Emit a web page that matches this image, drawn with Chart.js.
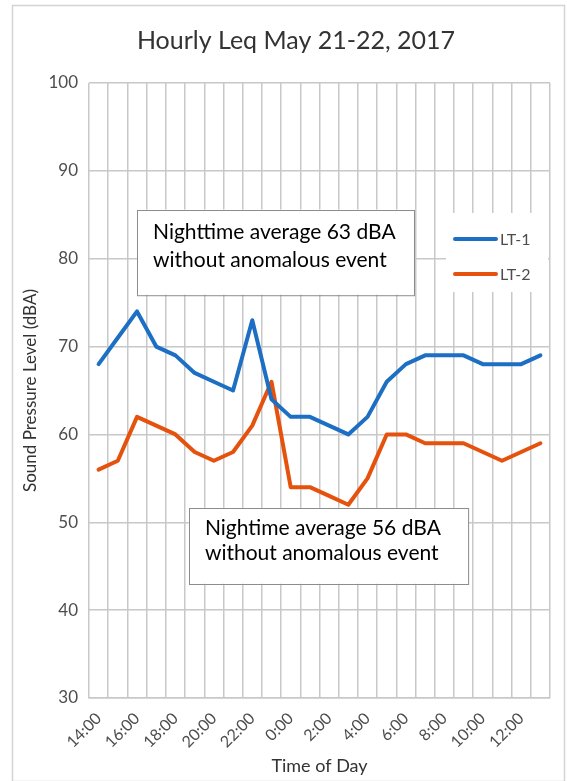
<!DOCTYPE html>
<html>
<head>
<meta charset="utf-8">
<script src="https://cdn.jsdelivr.net/npm/chart.js@4.4.1/dist/chart.umd.min.js"></script>
<style>
  html, body { margin: 0; padding: 0; background: #fff; }
  #wrap { width: 567px; height: 781px; position: relative; }
</style>
</head>
<body>
<div id="wrap"><canvas id="c" width="567" height="781"></canvas></div>
<script>
// hourly categories, 14:00 through 13:00 next day
const hours = ['14:00','15:00','16:00','17:00','18:00','19:00','20:00','21:00','22:00','23:00',
  '0:00','1:00','2:00','3:00','4:00','5:00','6:00','7:00','8:00','9:00','10:00','11:00','12:00','13:00'];
const lt1 = [68, 71, 74, 70, 69, 67, 66, 65, 73, 64, 62, 62, 61, 60, 62, 66, 68, 69, 69, 69, 68, 68, 68, 69];
const lt2 = [56, 57, 62, 61, 60, 58, 57, 58, 61, 66, 54, 54, 53, 52, 55, 60, 60, 59, 59, 59, 58, 57, 58, 59];
const seriesNames = ['LT-1', 'LT-2'];
const seriesColors = ['#1c6fc3', '#e5520e'];
const yTicks = { min: 30, max: 100, step: 10 };
const chartTitle = 'Hourly Leq May 21-22, 2017';
const notes = [
  { lines: ['Nighttime average 63 dBA', 'without anomalous event'], x0: 2.0, x1: 16.42, y0: 85.6, y1: 75.9 },
  { lines: ['Nightime average 56 dBA', 'without anomalous event'], x0: 4.7, x1: 19.23, y0: 51.65, y1: 43.0 }
];

const FONT = 'Lato, "Open Sans", sans-serif';

const extras = {
  id: 'extras',
  afterDraw(chart) {
    const ctx = chart.ctx;
    const xs = chart.scales.x, ys = chart.scales.y;
    ctx.save();
    // outer frame
    ctx.strokeStyle = '#d4d4d4';
    ctx.lineWidth = 1.5;
    ctx.strokeRect(12.5, 5.5, 552, 776);
    // title
    ctx.fillStyle = '#333';
    ctx.font = '25px ' + FONT;
    ctx.textAlign = 'center';
    ctx.textBaseline = 'middle';
    ctx.fillText(chartTitle, 296, 41);

    // annotation boxes
    notes.forEach(n => {
      const l = xs.getPixelForValue(n.x0), r = xs.getPixelForValue(n.x1);
      const t = ys.getPixelForValue(n.y0), b = ys.getPixelForValue(n.y1);
      ctx.fillStyle = '#fff';
      ctx.fillRect(l, t, r - l, b - t);
      ctx.strokeStyle = '#8c8c8c';
      ctx.lineWidth = 1;
      ctx.strokeRect(Math.round(l) + 0.5, Math.round(t) + 0.5, r - l, b - t);
      ctx.fillStyle = '#000';
      ctx.font = '21px ' + FONT;
      ctx.textAlign = 'left';
      ctx.textBaseline = 'middle';
      const h = b - t;
      ctx.fillText(n.lines[0], l + 16, t + h * 0.27);
      ctx.fillText(n.lines[1], l + 16, t + h * 0.6);
    });

    // legend
    ctx.fillStyle = '#fff';
    ctx.fillRect(446, 213, 102, 79);
    chart.data.datasets.forEach((ds, i) => {
      const y = 239 + i * 35;
      ctx.strokeStyle = ds.borderColor;
      ctx.lineWidth = 4;
      ctx.lineCap = 'round';
      ctx.beginPath();
      ctx.moveTo(455, y);
      ctx.lineTo(496, y);
      ctx.stroke();
      ctx.fillStyle = '#4d4d4d';
      ctx.font = '16px ' + FONT;
      ctx.textAlign = 'left';
      ctx.textBaseline = 'middle';
      ctx.fillText(ds.label, 500, y + 1);
    });
    ctx.restore();
  }
};

new Chart(document.getElementById('c'), {
  type: 'line',
  data: {
    labels: hours,
    datasets: [
      { label: seriesNames[0], data: lt1, borderColor: seriesColors[0], borderWidth: 4, pointRadius: 0, tension: 0, borderJoinStyle: 'round', borderCapStyle: 'round' },
      { label: seriesNames[1], data: lt2, borderColor: seriesColors[1], borderWidth: 4, pointRadius: 0, tension: 0, borderJoinStyle: 'round', borderCapStyle: 'round' }
    ]
  },
  options: {
    responsive: false,
    animation: false,
    layout: { padding: { top: 83, left: 20, right: 17, bottom: 4 } },
    plugins: { legend: { display: false }, title: { display: false }, tooltip: { enabled: false } },
    scales: {
      x: {
        offset: true,
        grid: { offset: true, color: '#c8c8c8', lineWidth: 1.5, drawTicks: false },
        border: { color: '#c8c8c8', width: 1.5 },
        ticks: {
          autoSkip: false, minRotation: 45, maxRotation: 45, padding: 11,
          color: '#4d4d4d', font: { family: FONT, size: 16 },
          callback: function(v, i) { return i % 2 === 0 ? this.getLabelForValue(v) : ''; }
        },
        title: { display: true, text: 'Time of Day', color: '#333', font: { family: FONT, size: 18 }, padding: { top: 0, bottom: 0 } },
        afterFit(scale) { scale.height = 79; }
      },
      y: {
        min: yTicks.min, max: yTicks.max,
        grid: { color: '#c8c8c8', lineWidth: 1.5, drawTicks: false },
        border: { display: false },
        ticks: { stepSize: yTicks.step, padding: 11, color: '#4d4d4d', font: { family: FONT, size: 17 } },
        title: { display: true, text: 'Sound Pressure Level (dBA)', color: '#333', font: { family: FONT, size: 17 }, padding: { top: 0, bottom: 4 } },
        afterFit(scale) { scale.width = 69; }
      }
    }
  },
  plugins: [extras]
});
</script>
</body>
</html>
